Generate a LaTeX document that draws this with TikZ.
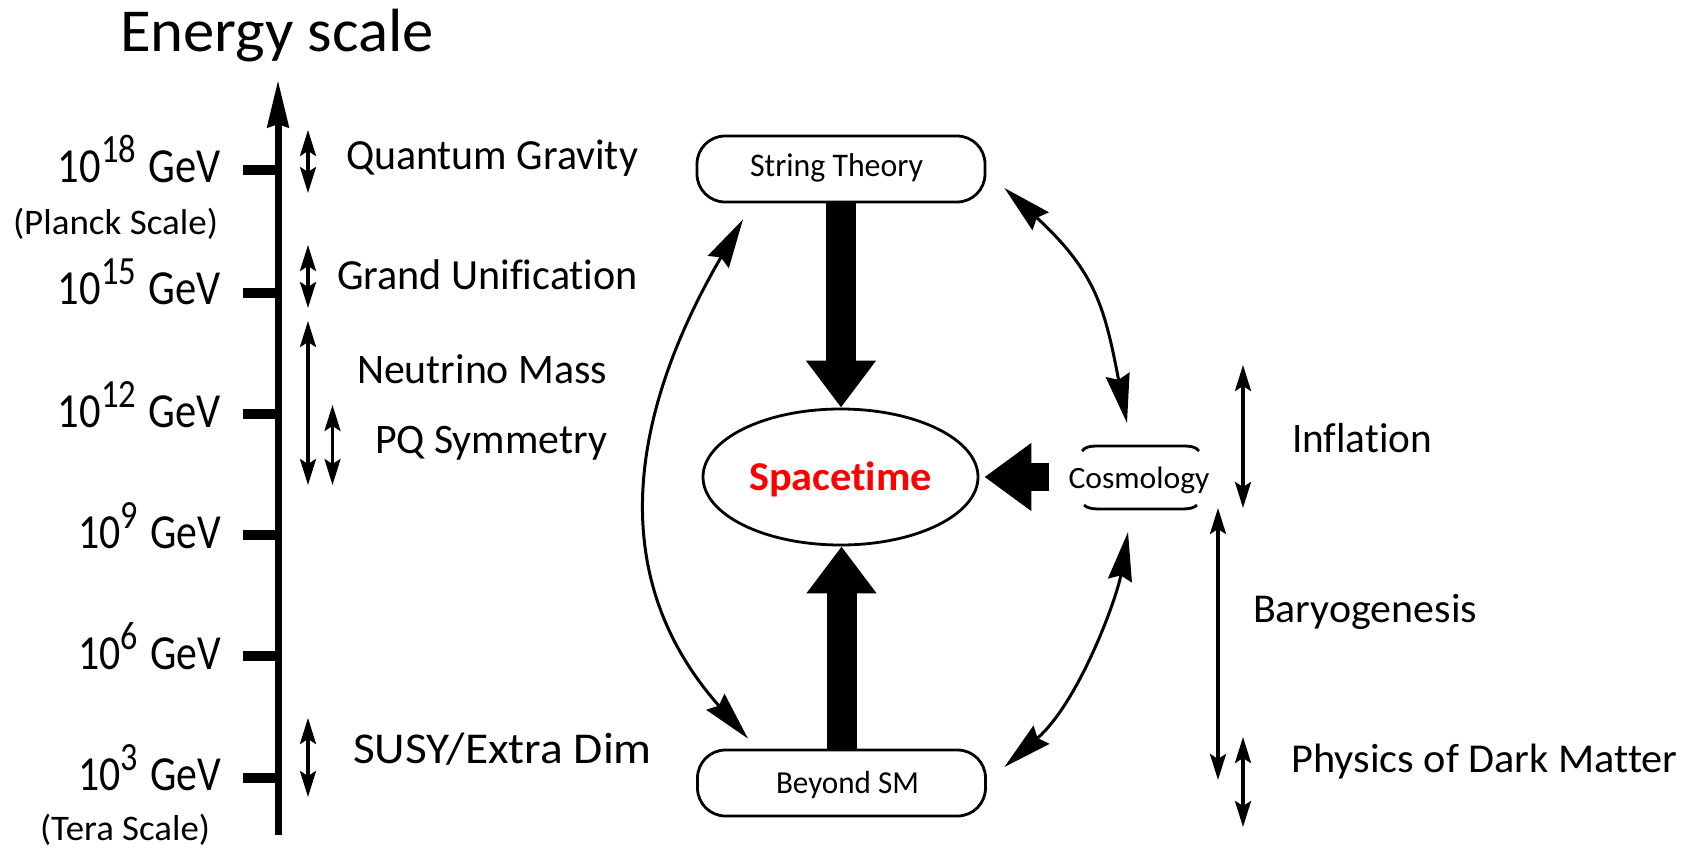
\documentclass[tikz,border=0pt]{standalone}
\usepackage{fontspec}
\setmainfont{Carlito}[Ligatures=NoCommon]
\usetikzlibrary{arrows.meta,shapes.geometric}
\newcommand\fw[3]{\resizebox{#1pt}{\height}{\fontsize{#2pt}{#2pt}\selectfont #3}}
\newcommand\gevtxt[1]{10\raisebox{20pt}{\fontsize{40pt}{40pt}\selectfont #1}\hspace{0.3em}GeV}
\begin{document}
\begin{tikzpicture}[x=1pt,y=-1pt,
  txt/.style={inner sep=0pt, outer sep=0pt, anchor=base west},
  gevlab/.style={inner sep=0pt, outer sep=0pt, anchor=base east},
  rng/.style={line width=3.5pt, {Stealth[length=26pt,width=16pt,inset=5pt]}-{Stealth[length=26pt,width=16pt,inset=5pt]}},
  curv/.style={line width=3pt, {Stealth[length=49pt,width=24pt,inset=5pt]}-{Stealth[length=49pt,width=24pt,inset=5pt]}},
  pill/.style={draw, line width=2.8pt, rounded corners=28pt, minimum width=288pt, minimum height=66pt, inner sep=0pt},
  bigarr/.style={line width=30pt, -{Triangle[length=47pt,width=67pt]}},
  tick/.style={line width=10pt}
]
\useasboundingbox (0,0) rectangle (1694,850);

% title
\node[txt] (title) at (120,52) {\fw{314}{61}{Energy scale}};

% energy axis
\coordinate (axb) at (278,835);
\coordinate (axt) at (278,80);
\draw[line width=7pt, -{Stealth[length=47pt,width=21pt,inset=3pt]}] (axb) -- (axt);
\foreach \yy in {170,293,414,535,656,778} \draw[tick] (243,\yy) -- (278,\yy);

% energy labels
\node[gevlab] (e18) at (221,183) {\fw{163}{49}{\gevtxt{18}}};
\node[gevlab] (e15) at (221,305) {\fw{163}{49}{\gevtxt{15}}};
\node[gevlab] (e12) at (221,427) {\fw{163}{49}{\gevtxt{12}}};
\node[gevlab] (e9) at (221,548) {\fw{143}{49}{\gevtxt{9}}};
\node[gevlab] (e6) at (221,669) {\fw{143}{49}{\gevtxt{6}}};
\node[gevlab] (e3) at (221,790) {\fw{143}{49}{\gevtxt{3}}};
\node[txt] (planck) at (13,235) {\fw{205}{36}{(Planck Scale)}};
\node[txt] (tera) at (40,840) {\fw{170}{36}{(Tera Scale)}};

% range arrows left
\draw[rng] (308,130) -- (308,193);
\draw[rng] (308,245) -- (308,308);
\draw[rng] (308,321) -- (308,485);
\draw[rng] (332.5,405) -- (332.5,485);
\draw[rng] (308,718) -- (308,797);

% labels left
\node[txt] (qg) at (346,170) {\fw{292}{43}{Quantum Gravity}};
\node[txt] (gu) at (337,290) {\fw{301}{43}{Grand Unification}};
\node[txt] (nm) at (357,383) {\fw{250}{42}{Neutrino Mass}};
\node[txt] (pq) at (375,453) {\fw{232}{42}{PQ Symmetry}};
\node[txt] (susy) at (353,763) {\fw{299}{44}{SUSY/Extra Dim}};

% central nodes
\node[pill, text height=24pt, text depth=8pt] (st) at (841,169) {\hspace*{-9pt}\fw{173}{33}{String Theory}};
\node[pill, text height=24pt, text depth=4pt] (bsm) at (841.5,783) {\hspace*{12pt}\fw{143}{32}{Beyond SM}};
\node[draw, ellipse, line width=2.8pt, minimum width=275pt, minimum height=136pt, inner sep=0pt, text height=30pt, text depth=4pt] (sp) at (840.5,477) {\fw{183}{41}{\bfseries\color{red}Spacetime}};
\node[inner sep=0pt, text height=22pt, text depth=0pt] (cos) at (1139,477) {\fw{141}{31}{Cosmology}};

% partial outline of Cosmology box
\draw[line width=2.8pt] (1082,451) .. controls (1085,447) and (1090,446) .. (1097,446) -- (1184,446) .. controls (1191,446) and (1196,447) .. (1199,451);
\draw[line width=2.8pt] (1084,505) .. controls (1087,508) and (1092,509) .. (1099,509) -- (1182,509) .. controls (1189,509) and (1194,508) .. (1197,505);

% thick arrows
\draw[bigarr] (st.south) -- (st.south |- sp.north);
\draw[bigarr] (bsm.north) -- (bsm.north |- sp.south);
\draw[line width=28pt, -{Triangle[length=47pt,width=65pt]}, shorten >=5pt] ([xshift=-90.5pt]cos.center) -- (sp.east);

% curved double arrows
\coordinate (a1) at ([shift={(-98,16)}]st.south);
\coordinate (a2) at ([shift={(-93.5,-10)}]bsm.north);
\coordinate (b1) at ([shift={(18,19)}]st.east);
\coordinate (b2) at ([shift={(-12,-54)}]cos.center);
\coordinate (c1) at ([shift={(-11,55)}]cos.center);
\coordinate (c2) at ([shift={(17.5,-16)}]bsm.east);
\draw[curv] (a1) .. controls (631,412) and (603,575) .. (a2);
\draw[curv] (b1) .. controls (1097,273) and (1105,310) .. (b2);
\draw[curv] (c1) .. controls (1117,598) and (1079,702) .. (c2);

% range arrows right
\draw[rng] (1243,365) -- (1243,508);
\draw[rng] (1218,508) -- (1218,780);
\draw[rng] (1243,737) -- (1243,827);

% labels right
\node[txt] (infl) at (1292,452) {\fw{140}{42}{Inflation}};
\node[txt] (bary) at (1253,622) {\fw{224}{41}{Baryogenesis}};
\node[txt] (dm) at (1291.5,772) {\fw{386}{41}{Physics of Dark Matter}};
\end{tikzpicture}
\end{document}
